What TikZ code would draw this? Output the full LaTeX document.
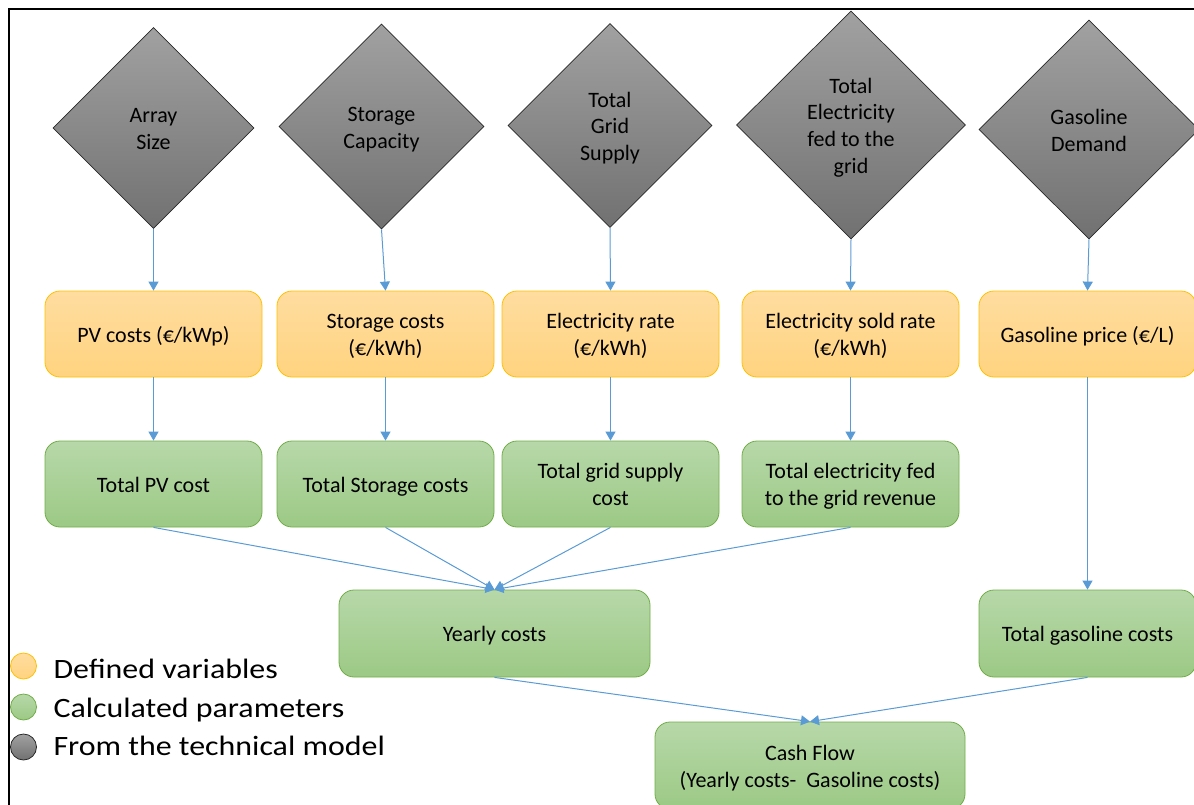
\documentclass[tikz,border=0pt]{standalone}
\usepackage{fontspec}
\setmainfont{Carlito}
\usetikzlibrary{shapes.geometric,arrows.meta}

\definecolor{dtop}{RGB}{161,161,161}
\definecolor{dbot}{RGB}{113,113,113}
\definecolor{dline}{RGB}{40,40,40}
\definecolor{ytop}{RGB}{255,221,160}
\definecolor{ybot}{RGB}{255,211,127}
\definecolor{yline}{RGB}{255,192,0}
\definecolor{gtop}{RGB}{183,216,169}
\definecolor{gbot}{RGB}{156,201,133}
\definecolor{gline}{RGB}{112,173,71}
\definecolor{link}{RGB}{91,155,213}

% centred lines of text, set slightly below the middle of their shape
\newcommand{\boxtext}[1]{\raisebox{0pt}[\dimexpr\height+6pt\relax][\depth]{%
  \begin{tabular}{@{}c@{}}#1\end{tabular}}}

\begin{document}
\begin{tikzpicture}[x=1pt,y=-1pt,
  every node/.style={font=\fontsize{22}{26.8}\selectfont, align=center, text=black},
  modeldia/.style={diamond, draw=dline, line width=0.7pt, top color=dtop, bottom color=dbot,
    inner sep=0pt, aspect=1},
  varbox/.style={rectangle, rounded corners=15pt, draw=yline, line width=0.8pt,
    top color=ytop, bottom color=ybot, minimum width=217pt, minimum height=86pt, inner sep=0pt},
  calcbox/.style={rectangle, rounded corners=15pt, draw=gline, line width=0.8pt,
    top color=gtop, bottom color=gbot, minimum width=217pt, minimum height=86pt, inner sep=0pt},
  flow/.style={draw=link, line width=1pt, -{Triangle[length=9pt,width=10pt]}},
  keydot/.style={circle, minimum size=26pt, inner sep=0pt, line width=0.8pt},
  keytext/.style={anchor=base west, font=\fontsize{28}{34}\selectfont},
]
\useasboundingbox (0,0) rectangle (1194,804);
\clip (0,0) rectangle (1194,804);

% outer frame
\draw[line width=2pt, black] (9,840) |- (1240,9);

% inputs from the technical model
\node[modeldia, minimum width=201pt, minimum height=201pt] (arr) at (153.5,128) {\boxtext{Array\\Size}};
\node[modeldia, minimum width=205pt, minimum height=205pt] (sto) at (381.5,126.5) {\boxtext{Storage\\Capacity}};
\node[modeldia, minimum width=204pt, minimum height=204pt] (grd) at (610,125.5) {\boxtext{Total\\Grid\\Supply}};
\node[modeldia, minimum width=229pt, minimum height=228pt] (fed) at (851,125) {\boxtext{Total\\Electricity\\fed to the\\grid}};
\node[modeldia, minimum width=220pt, minimum height=219pt] (gas) at (1089,129.5) {\boxtext{Gasoline\\Demand}};

% defined variables
\node[varbox] (pvc) at (153.5,334) {\boxtext{PV costs (€/kWp)}};
\node[varbox] (stc) at (385.5,334) {\boxtext{Storage costs\\(€/kWh)}};
\node[varbox] (elr) at (610.5,334) {\boxtext{Electricity rate\\(€/kWh)}};
\node[varbox] (esr) at (850.5,334) {\boxtext{Electricity sold rate\\(€/kWh)}};
\node[varbox] (gpr) at (1087.5,334) {\boxtext{Gasoline price (€/L)}};

% calculated parameters
\node[calcbox] (tpv) at (153.5,484) {\boxtext{Total PV cost}};
\node[calcbox] (tst) at (385.5,484) {\boxtext{Total Storage costs}};
\node[calcbox] (tgs) at (610.5,484) {\boxtext{Total grid supply\\cost}};
\node[calcbox] (tfr) at (850.5,484) {\boxtext{Total electricity fed\\to the grid revenue}};
\node[calcbox, minimum width=311pt, minimum height=87pt] (yc) at (494.5,633.5) {\boxtext{Yearly costs}};
\node[calcbox, minimum height=87pt] (tgc) at (1087.5,633.5) {\boxtext{Total gasoline costs}};
\node[calcbox, minimum width=310pt, minimum height=87pt] (cf) at (810,765.5)
  {\boxtext{Cash Flow\\(Yearly costs-\ \ Gasoline costs)}};

% connectors
\draw[flow] (arr.south) -- (pvc.north);
\draw[flow] (sto.south) -- (stc.north);
\draw[flow] (grd.south) -- (elr.north);
\draw[flow] (fed.south) -- (esr.north);
\draw[flow] (gas.south) -- (gpr.north);

\draw[flow] (pvc.south) -- (tpv.north);
\draw[flow] (stc.south) -- (tst.north);
\draw[flow] (elr.south) -- (tgs.north);
\draw[flow] (esr.south) -- (tfr.north);
\draw[flow] (gpr.south) -- (tgc.north);

\draw[flow] (tpv.south) -- (yc.north);
\draw[flow] (tst.south) -- (yc.north);
\draw[flow] (tgs.south) -- (yc.north);
\draw[flow] (tfr.south) -- (yc.north);

\draw[flow] (yc.south) -- (cf.north);
\draw[flow] (tgc.south) -- (cf.north);

% legend
\node[keydot, draw=yline, top color=ytop, bottom color=ybot] (k1) at (23.5,666) {};
\node[keydot, draw=gline, top color=gtop, bottom color=gbot] (k2) at (23.5,707) {};
\node[keydot, draw=dline, top color=dtop, bottom color=dbot] (k3) at (23.5,747) {};
\node[keytext] (t1) at (50,678) {\scalebox{1.14}[1]{Defined variables}};
\node[keytext] (t2) at (50,717) {\scalebox{1.14}[1]{Calculated parameters}};
\node[keytext] (t3) at (50,755) {\scalebox{1.14}[1]{From the technical model}};
\end{tikzpicture}
\end{document}
